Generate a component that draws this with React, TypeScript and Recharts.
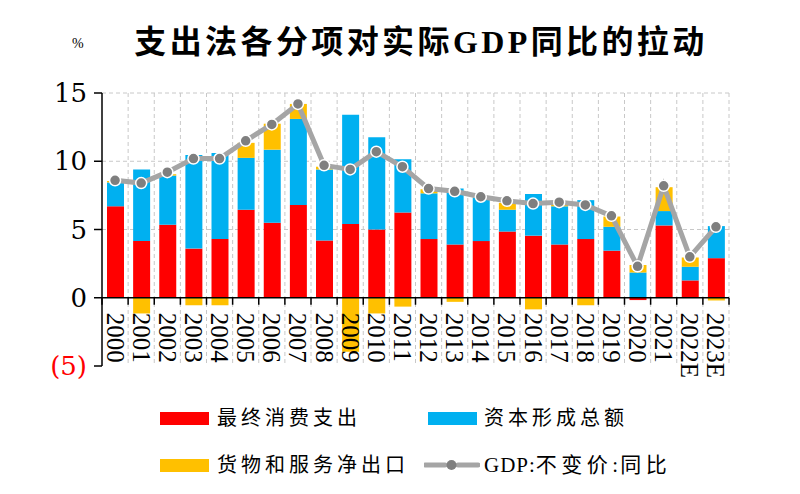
import React from 'react';
import { ComposedChart, Bar, Line, XAxis, YAxis, CartesianGrid, ReferenceLine } from 'recharts';

const categories = ['2000', '2001', '2002', '2003', '2004', '2005', '2006', '2007', '2008', '2009', '2010', '2011', '2012', '2013', '2014', '2015', '2016', '2017', '2018', '2019', '2020', '2021', '2022E', '2023E'];
const consumption = [6.7, 4.15, 5.35, 3.6, 4.3, 6.45, 5.5, 6.8, 4.2, 5.4, 5.0, 6.25, 4.3, 3.9, 4.15, 4.85, 4.55, 3.9, 4.3, 3.45, -0.17, 5.3, 1.27, 2.9];
const capital = [1.75, 5.25, 3.6, 6.85, 6.3, 3.8, 5.35, 6.3, 5.2, 8.0, 6.75, 3.9, 3.35, 4.1, 3.2, 1.6, 3.05, 2.8, 2.85, 1.75, 1.85, 1.05, 1.0, 2.35];
const netExports = [0.1, -1.15, 0.1, -0.55, -0.55, 1.1, 1.9, 1.1, 0.2, -3.95, -1.15, -0.65, 0.3, -0.3, 0.05, 0.5, -0.85, 0.15, -0.55, 0.75, 0.55, 1.75, 0.68, -0.2];
const gdp = [8.6, 8.4, 9.2, 10.2, 10.2, 11.5, 12.7, 14.2, 9.7, 9.4, 10.7, 9.6, 8.0, 7.8, 7.4, 7.1, 6.9, 7.0, 6.8, 6.0, 2.3, 8.2, 3.0, 5.2];
const yTicks = [-5, 0, 5, 10, 15];

const data = categories.map((c, i) => ({
  year: c,
  consumption: consumption[i],
  capital: capital[i],
  netExports: netExports[i],
  gdp: gdp[i],
}));

const W = 800;
const H = 494;
const PLOT_LEFT = 102;
const PLOT_RIGHT = 729;
const PLOT_TOP = 93;
const PLOT_BOTTOM = 366;
const PLOT_W = PLOT_RIGHT - PLOT_LEFT;
const PLOT_H = PLOT_BOTTOM - PLOT_TOP;
const zeroY = PLOT_TOP + (PLOT_H * 15) / 20;
const band = PLOT_W / categories.length;

const RED = '#FF0000';
const BLUE = '#00B0F0';
const YELLOW = '#FFC000';
const LINE_GRAY = '#A5A5A5';
const DOT_GRAY = '#7F7F7F';

const XTick = (props: any) => {
  const { x, payload } = props;
  const i = categories.indexOf(payload.value);
  return (
    <g>
      <line x1={x - band / 2} x2={x - band / 2} y1={zeroY} y2={zeroY + 7} stroke="#000" strokeWidth={1.5} />
      {i === categories.length - 1 && (
        <line x1={x + band / 2} x2={x + band / 2} y1={zeroY} y2={zeroY + 7} stroke="#000" strokeWidth={1.5} />
      )}
      <text
        transform={`translate(${x},${zeroY + 15}) rotate(90)`}
        textAnchor="start"
        dominantBaseline="central"
        fontSize={25}
        fontFamily="'Liberation Serif', serif"
        fill="#000"
      >
        {payload.value}
      </text>
    </g>
  );
};

const YTick = (props: any) => {
  const { x, y, payload } = props;
  const v = payload.value;
  return (
    <text x={x} y={y} textAnchor="end" dominantBaseline="central" fontSize={26} fontFamily="'DejaVu Serif', serif" fill={v < 0 ? RED : '#000'}>
      {v < 0 ? `(${Math.abs(v)})` : v}
    </text>
  );
};

const legendText: React.CSSProperties = {
  position: 'absolute',
  fontSize: 20,
  letterSpacing: 4,
  fontFamily: "'Liberation Serif', 'Noto Sans CJK SC', serif",
  lineHeight: '24px',
  whiteSpace: 'nowrap',
};

const swatch = (left: number, top: number, color: string) => (
  <div style={{ position: 'absolute', left, top, width: 49, height: 13, background: color }} />
);

export default function App() {
  return (
    <div style={{ position: 'absolute', left: 0, top: 0, width: W, height: H, background: '#fff', overflow: 'hidden' }}>
      <div style={{ position: 'absolute', left: 72, top: 36, fontSize: 14, fontFamily: "'Liberation Serif', serif" }}>%</div>
      <div
        style={{
          position: 'absolute',
          left: 0,
          width: 842,
          top: 20,
          textAlign: 'center',
          fontSize: 32,
          fontWeight: 700,
          letterSpacing: 3.4,
          fontFamily: "'Liberation Serif', 'Noto Sans CJK SC', serif",
          lineHeight: '44px',
        }}
      >
        支出法各分项对实际GDP同比的拉动
      </div>

      <ComposedChart
        width={W}
        height={H}
        data={data}
        stackOffset="sign"
        margin={{ top: PLOT_TOP, right: W - PLOT_RIGHT, bottom: H - PLOT_BOTTOM - 30, left: 0 }}
      >
        <CartesianGrid
          stroke="#C8C8C8"
          strokeDasharray="4 3"
          horizontalCoordinatesGenerator={() => [5, 10, 15].map((v) => PLOT_TOP + ((15 - v) / 20) * PLOT_H)}
          verticalCoordinatesGenerator={() => categories.map((_, i) => PLOT_LEFT + (i + 1) * band)}
        />
        <YAxis
          width={PLOT_LEFT}
          domain={[-5, 15]}
          ticks={yTicks}
          interval={0}
          axisLine={{ stroke: '#000', strokeWidth: 1.5 }}
          tickLine={{ stroke: '#000', strokeWidth: 1.5 }}
          tickSize={8}
          tickMargin={7}
          tick={<YTick />}
        />
        <Bar dataKey="consumption" stackId="a" fill={RED} barSize={17} isAnimationActive={false} />
        <Bar dataKey="capital" stackId="a" fill={BLUE} barSize={17} isAnimationActive={false} />
        <Bar dataKey="netExports" stackId="a" fill={YELLOW} barSize={17} isAnimationActive={false} />
        <ReferenceLine y={0} stroke="#000" strokeWidth={1.5} />
        <XAxis dataKey="year" height={30} axisLine={false} tickLine={false} interval={0} tick={<XTick />} />
        <Line
          dataKey="gdp"
          stroke={LINE_GRAY}
          strokeWidth={5}
          dot={{ r: 5.5, fill: DOT_GRAY, stroke: '#fff', strokeWidth: 1.5 }}
          isAnimationActive={false}
        />
      </ComposedChart>

      {swatch(160, 412, RED)}
      <div style={{ ...legendText, left: 217, top: 406 }}>最终消费支出</div>
      {swatch(428, 412, BLUE)}
      <div style={{ ...legendText, left: 484, top: 406 }}>资本形成总额</div>
      {swatch(160, 459, YELLOW)}
      <div style={{ ...legendText, left: 217, top: 453 }}>货物和服务净出口</div>
      <svg style={{ position: 'absolute', left: 424, top: 455 }} width={56} height={20}>
        <line x1={1} x2={21} y1={10} y2={10} stroke={LINE_GRAY} strokeWidth={5} strokeLinecap="round" />
        <line x1={34} x2={54} y1={10} y2={10} stroke={LINE_GRAY} strokeWidth={5} strokeLinecap="round" />
        <circle cx={27.5} cy={10} r={5} fill={DOT_GRAY} />
      </svg>
      <div style={{ ...legendText, left: 484, top: 453, fontSize: 21 }}>
        <span style={{ letterSpacing: 1 }}>GDP:</span>
        <span style={{ letterSpacing: 4.5 }}>不变价</span>
        <span style={{ letterSpacing: 2 }}>:</span>
        <span style={{ letterSpacing: 4.5 }}>同比</span>
      </div>
    </div>
  );
}
